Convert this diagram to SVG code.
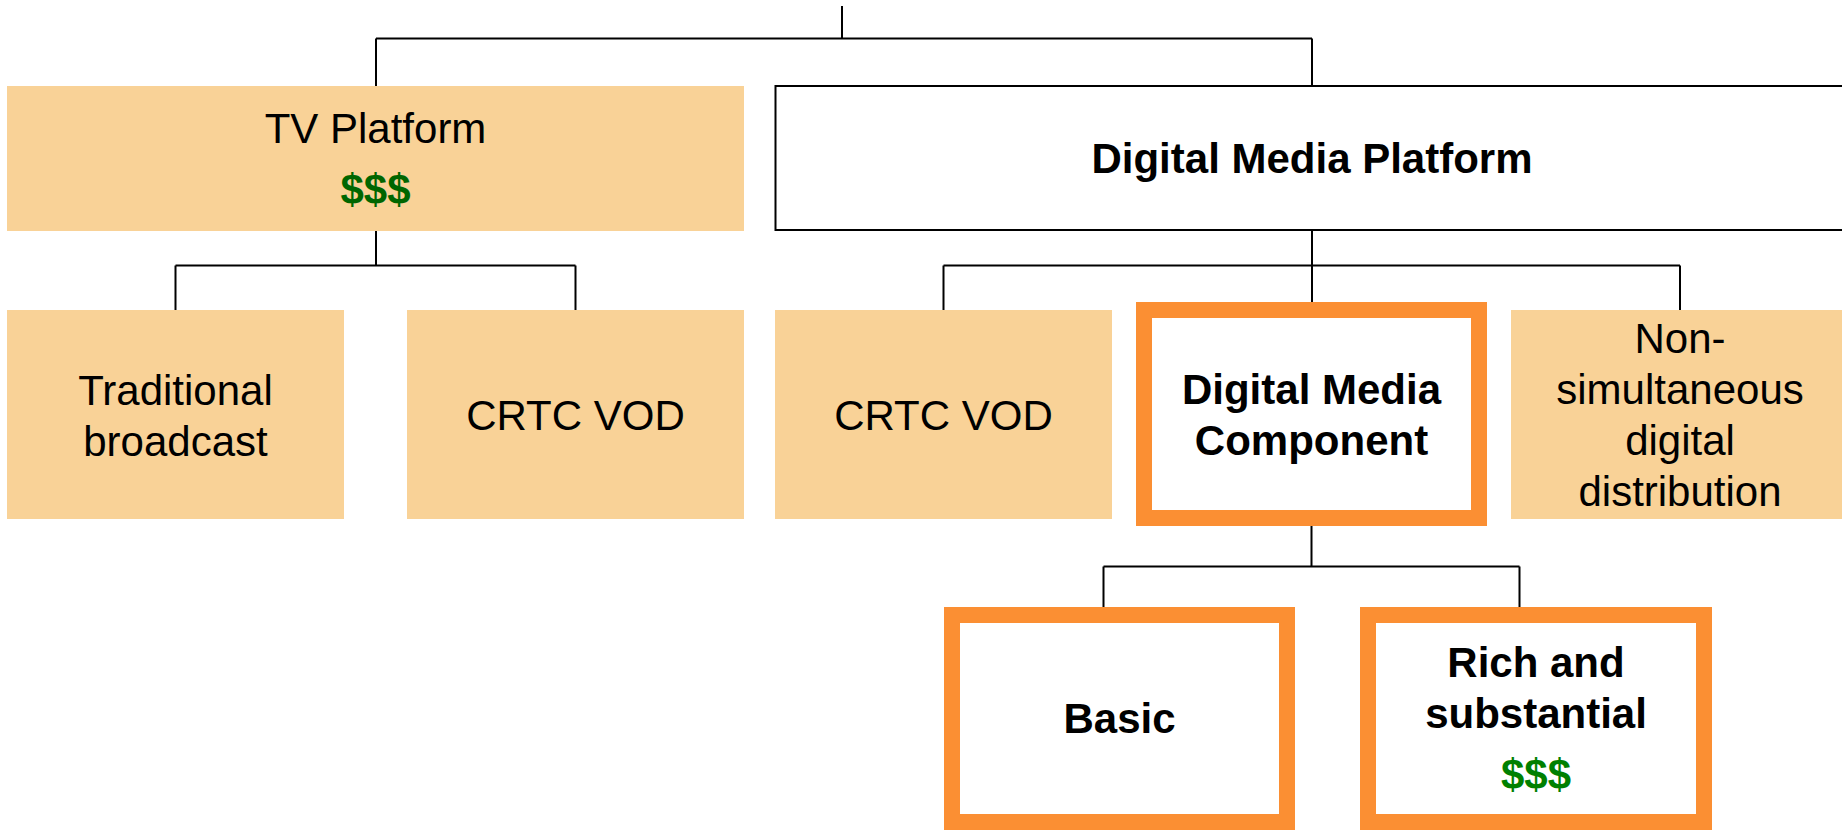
<svg xmlns="http://www.w3.org/2000/svg" width="1842" height="833" viewBox="0 0 1842 833">
<style>
.peach{fill:#F9D297;}
.white{fill:#FFFFFF;stroke:#000;stroke-width:2;}
.orange{fill:#FFFFFF;stroke:#FB8F33;stroke-width:16;}
.t{font-family:"Liberation Sans",Arial,sans-serif;font-size:42px;text-anchor:middle;fill:#000;}
.b{font-weight:bold;}
.g1{fill:#006600;font-weight:bold;}
.g2{fill:#008000;font-weight:bold;}
.conn{fill:none;stroke:#000;stroke-width:2;}
</style>
<rect width="1842" height="833" fill="#FFFFFF"/>
<g id="connectors">
<path class="conn" d="M842,6 V38.5 M376,38.5 H1312 M376,38.5 V86 M1312,38.5 V86"/>
<path class="conn" d="M376,231 V265.5 M175.5,265.5 H575.5 M175.5,265.5 V310 M575.5,265.5 V310"/>
<path class="conn" d="M1312,230 V302 M943.5,265.5 H1680 M943.5,265.5 V310 M1680,265.5 V310"/>
<path class="conn" d="M1311.5,526 V566.5 M1103.5,566.5 H1519.5 M1103.5,566.5 V607 M1519.5,566.5 V607"/>
</g>
<g id="tv-platform">
<rect class="peach" x="7" y="86" width="737" height="145"/>
<text class="t" x="375.5" y="143">TV Platform</text>
<text class="t g1" x="375.5" y="204">$$$</text>
</g>
<g id="digital-media-platform">
<rect class="white" x="775.5" y="86" width="1080" height="144"/>
<text class="t b" x="1312" y="173">Digital Media Platform</text>
</g>
<g id="traditional-broadcast">
<rect class="peach" x="7" y="310" width="337" height="209"/>
<text class="t" x="175.5" y="405">Traditional</text>
<text class="t" x="175.5" y="455.5">broadcast</text>
</g>
<g id="crtc-vod-1">
<rect class="peach" x="407" y="310" width="337" height="209"/>
<text class="t" x="575.5" y="430">CRTC VOD</text>
</g>
<g id="crtc-vod-2">
<rect class="peach" x="775" y="310" width="337" height="209"/>
<text class="t" x="943.5" y="430">CRTC VOD</text>
</g>
<g id="digital-media-component">
<rect class="orange" x="1144" y="310" width="335" height="208"/>
<text class="t b" x="1311.5" y="404">Digital Media</text>
<text class="t b" x="1311.5" y="455">Component</text>
</g>
<g id="non-simultaneous">
<rect class="peach" x="1511" y="310" width="338" height="209"/>
<text class="t" x="1680" y="353">Non-</text>
<text class="t" x="1680" y="404">simultaneous</text>
<text class="t" x="1680" y="455">digital</text>
<text class="t" x="1680" y="506">distribution</text>
</g>
<g id="basic">
<rect class="orange" x="952" y="615" width="335" height="207"/>
<text class="t b" x="1119.5" y="733">Basic</text>
</g>
<g id="rich-and-substantial">
<rect class="orange" x="1368" y="615" width="336" height="207"/>
<text class="t b" x="1536" y="677">Rich and</text>
<text class="t b" x="1536" y="728">substantial</text>
<text class="t g2" x="1536" y="789">$$$</text>
</g>
</svg>
